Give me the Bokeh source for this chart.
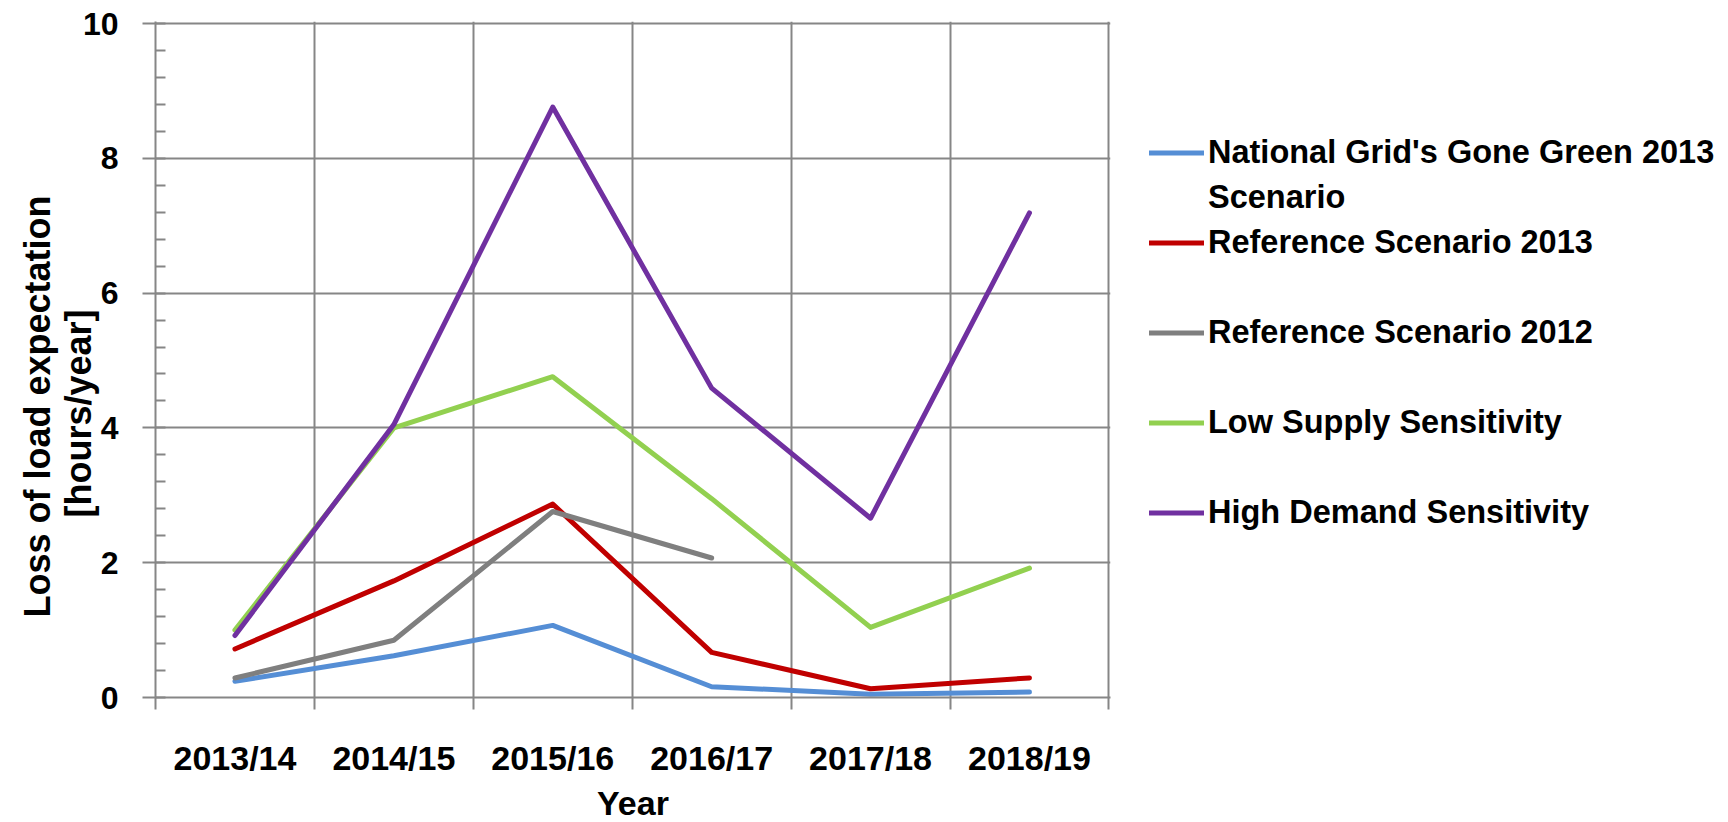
from bokeh.plotting import figure
from bokeh.models import FixedTicker, Legend, LegendItem, Range1d, Title
from bokeh.embed import file_html
from bokeh.resources import INLINE

years = ["2013/14", "2014/15", "2015/16", "2016/17", "2017/18", "2018/19"]
national_grid = [0.24, 0.62, 1.07, 0.16, 0.05, 0.08]
ref_2013 = [0.72, 1.73, 2.87, 0.67, 0.13, 0.29]
ref_2012 = [0.29, 0.85, 2.76, 2.07]
low_supply = [1.00, 4.00, 4.76, 2.95, 1.04, 1.92]
high_demand = [0.92, 4.05, 8.76, 4.59, 2.66, 7.19]

series = [
    ("National Grid's Gone Green 2013", national_grid, "#558ED5"),
    ("Reference Scenario 2013", ref_2013, "#C00000"),
    ("Reference Scenario 2012", ref_2012, "#7F7F7F"),
    ("Low Supply Sensitivity", low_supply, "#92D050"),
    ("High Demand Sensitivity", high_demand, "#7030A0"),
]

FONT = "Liberation Sans"
GRID = "#868686"

p = figure(frame_width=955, frame_height=676, output_backend="svg",
           toolbar_location=None,
           x_range=Range1d(0, 6.01), y_range=Range1d(0, 10.03),
           min_border_left=155, min_border_right=618, min_border_top=21,
           min_border_bottom=0)
p.outline_line_color = None
p.background_fill_color = "white"
p.border_fill_color = "white"

centers = [i + 0.5 for i in range(len(years))]
renderers = []
for name, vals, col in series:
    r = p.line(centers[:len(vals)], vals, line_color=col, line_width=5,
               line_join="round", line_cap="round")
    renderers.append(r)

# invisible renderer used only for the wrapped label line and spacing rows
blank = p.line([], [], line_alpha=0)

# axes
xa = p.xaxis[0]
xa.ticker = FixedTicker(ticks=centers, minor_ticks=list(range(0, 7)))
xa.major_label_overrides = {c: y for c, y in zip(centers, years)}
xa.major_tick_out = 0
xa.major_tick_in = 0
xa.minor_tick_out = 12
xa.minor_tick_in = 0
xa.minor_tick_line_color = GRID
xa.minor_tick_line_width = 2
xa.axis_line_color = GRID
xa.axis_line_width = 2
xa.major_label_standoff = 29
xa.major_label_text_font = FONT
xa.major_label_text_font_style = "bold"
xa.major_label_text_font_size = "34px"
xa.major_label_text_color = "black"
xa.axis_label = "Year"
xa.axis_label_text_font = FONT
xa.axis_label_text_font_style = "bold"
xa.axis_label_text_font_size = "34px"
xa.axis_label_text_color = "black"
xa.axis_label_standoff = 4

ya = p.yaxis[0]
ya.ticker = FixedTicker(ticks=[0, 2, 4, 6, 8, 10],
                        minor_ticks=[i * 0.4 for i in range(26)])
ya.major_tick_out = 13
ya.major_tick_in = 0
ya.minor_tick_in = 10
ya.minor_tick_out = 0
ya.major_tick_line_color = GRID
ya.major_tick_line_width = 2
ya.minor_tick_line_color = GRID
ya.minor_tick_line_width = 2
ya.axis_line_color = GRID
ya.axis_line_width = 2
ya.major_label_standoff = 24
ya.major_label_text_font = FONT
ya.major_label_text_font_style = "bold"
ya.major_label_text_font_size = "32px"
ya.major_label_text_color = "black"

p.xgrid.ticker = FixedTicker(ticks=[1, 2, 3, 4, 5, 6])
p.xgrid.grid_line_color = GRID
p.xgrid.grid_line_width = 2
p.ygrid.grid_line_color = GRID
p.ygrid.grid_line_width = 2

title_style = dict(text_font=FONT, text_font_style="bold",
                   text_font_size="36px", text_color="black", align="left")
t_hours = Title(text="[hours/year]", offset=180, vertical_align="bottom",
                standoff=-38, **title_style)
t_loss = Title(text="Loss of load expectation", offset=80,
               vertical_align="top", standoff=30, **title_style)
p.add_layout(t_hours, "left")
p.add_layout(t_loss, "left")

items = [
    LegendItem(label=series[0][0], renderers=[renderers[0]]),
    LegendItem(label="Scenario", renderers=[blank]),
    LegendItem(label=series[1][0], renderers=[renderers[1]]),
    LegendItem(label=" ", renderers=[blank]),
    LegendItem(label=series[2][0], renderers=[renderers[2]]),
    LegendItem(label=" ", renderers=[blank]),
    LegendItem(label=series[3][0], renderers=[renderers[3]]),
    LegendItem(label=" ", renderers=[blank]),
    LegendItem(label=series[4][0], renderers=[renderers[4]]),
]
legend = Legend(items=items, location=(39, 162), orientation="vertical",
                label_text_font=FONT, label_text_font_style="bold",
                label_text_font_size="32.5px", label_text_color="black",
                glyph_width=55, glyph_height=45, label_height=45,
                label_standoff=4, spacing=0, padding=0, margin=0,
                border_line_color=None, background_fill_alpha=0)
p.add_layout(legend, "right")

open("out.html", "w").write(file_html(p, INLINE))
